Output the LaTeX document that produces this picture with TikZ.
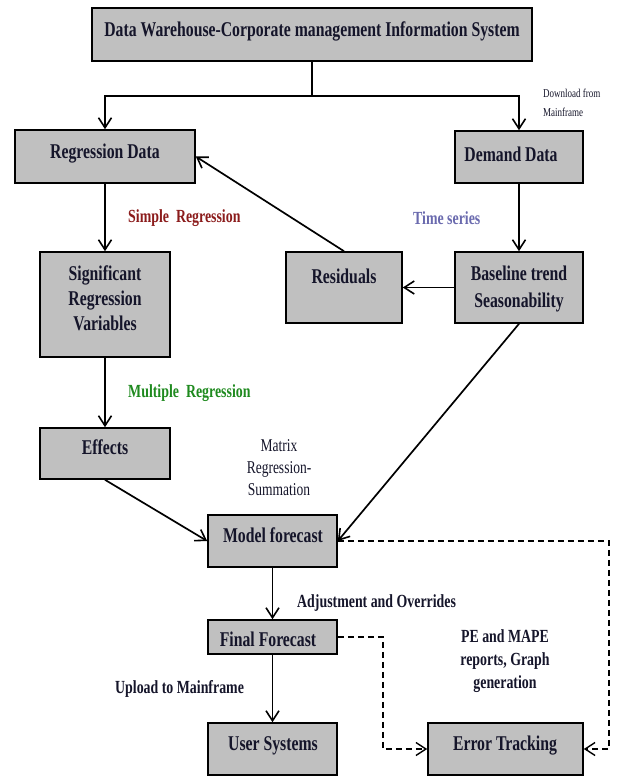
\documentclass[tikz,border=0pt]{standalone}
\usepackage{fontspec}
\setmainfont{Liberation Serif}[FakeStretch=0.75]
\usetikzlibrary{arrows.meta}
\definecolor{boxgray}{HTML}{C0C0C0}
\definecolor{txt}{HTML}{15152A}
\definecolor{sred}{HTML}{8B1C1C}
\definecolor{tblue}{HTML}{6A6AAE}
\definecolor{mgreen}{HTML}{1F8A1F}
\begin{document}
\begin{tikzpicture}[x=1pt,y=-1pt,
 box/.style={draw=black,line width=1.6pt,fill=boxgray,inner sep=0pt},
 btxt/.style={text=txt,font=\fontsize{21}{25}\selectfont\bfseries,align=center,inner sep=0pt},
 lbl/.style={font=\fontsize{18.5}{22}\selectfont\bfseries,inner sep=0pt,anchor=west},
 arr/.style={line width=1.7pt,-{Straight Barb[length=10pt,width=13pt,line width=1.6pt]}},
 darr/.style={line width=1.3pt,dash pattern=on 6pt off 4pt,-{Straight Barb[length=10pt,width=13pt,line width=1.4pt]}}
]
\useasboundingbox (0,0) rectangle (623,776);
% boxes
\node[box,minimum width=440pt,minimum height=53pt] (top) at (312,34.5) {};
\node[box,minimum width=180pt,minimum height=53pt] (regd) at (105,156.5) {};
\node[box,minimum width=128pt,minimum height=52pt] (dem) at (519,157) {};
\node[box,minimum width=130pt,minimum height=105pt] (srv) at (105,304.5) {};
\node[box,minimum width=116pt,minimum height=71pt] (res) at (344,287.5) {};
\node[box,minimum width=128pt,minimum height=71pt] (base) at (519,287.5) {};
\node[box,minimum width=130pt,minimum height=51pt] (eff) at (105,453.5) {};
\node[box,minimum width=129pt,minimum height=52pt] (model) at (272.5,541) {};
\node[box,minimum width=129pt,minimum height=34pt] (final) at (272.5,637) {};
\node[box,minimum width=129pt,minimum height=52pt] (user) at (272.5,749) {};
\node[box,minimum width=155pt,minimum height=52pt] (err) at (505.5,749) {};
% box texts
\node[btxt] (toptx) at (312,31) {Data Warehouse-Corporate management Information System};
\node[btxt] (regdtx) at (105,154) {Regression Data};
\node[btxt] (demtx) at (511,154) {Demand Data};
\node[btxt] (srvtx) at (105,298) {Significant\\Regression\\Variables};
\node[btxt] (restx) at (344,276) {Residuals};
\node[btxt,font=\fontsize{21}{27}\selectfont\bfseries] (basetx) at (519,289) {Baseline trend\\Seasonability};
\node[btxt] (efftx) at (105,447) {Effects};
\node[btxt] (modeltx) at (273,535) {Model forecast};
\node[btxt] (finaltx) at (268,639) {Final Forecast};
\node[btxt] (usertx) at (273,746) {User Systems};
\node[btxt] (errtx) at (505,746) {Error Tracking};
% labels
\node[lbl,text=sred] (simple) at (128,218) {Simple\ \ Regression};
\node[lbl,text=tblue] (tseries) at (413,218) {Time series};
\node[lbl,text=mgreen] (multi) at (128,393) {Multiple\ \ Regression};
\node[lbl,text=txt] (adj) at (297,603) {Adjustment and Overrides};
\node[lbl,text=txt] (upl) at (115,689) {Upload to Mainframe};
\node[text=txt,font=\fontsize{18.5}{23}\selectfont\bfseries,align=center,inner sep=0pt] (pe) at (505,661) {PE and MAPE\\reports, Graph\\generation};
\node[text=txt,font=\fontsize{18}{22}\selectfont,align=center,inner sep=0pt] (matrix) at (279,468) {Matrix\\Regression-\\Summation};
\node[text=txt,font=\fontsize{12}{19}\selectfont,align=left,inner sep=0pt,anchor=west] (dl) at (543,103) {Download from\\Mainframe};
% connectors
\coordinate (split) at (312,96);
\draw[line width=1.7pt] (top.south) -- (split);
\draw[arr] (split) -| (regd.north);
\draw[arr] (split) -| (dem.north);
\draw[arr] (res.north) -- (regd.east);
\draw[arr] (regd.south) -- (srv.north);
\draw[arr] (dem.south) -- (base.north);
\draw[arr] (base.west) -- (res.east);
\draw[arr] (base.south) -- (model.east);
\draw[arr] (srv.south) -- (eff.north);
\draw[arr] (eff.south) -- (model.west);
\draw[arr] (model.south) -- (final.north);
\draw[arr] (final.south) -- (user.north);
\coordinate (dr) at (609,541);
\draw[darr] (model.east) -- (dr) |- (err.east);
\coordinate (dlc) at (383,637);
\draw[darr] (final.east) -- (dlc) |- (err.west);
\end{tikzpicture}
\end{document}
